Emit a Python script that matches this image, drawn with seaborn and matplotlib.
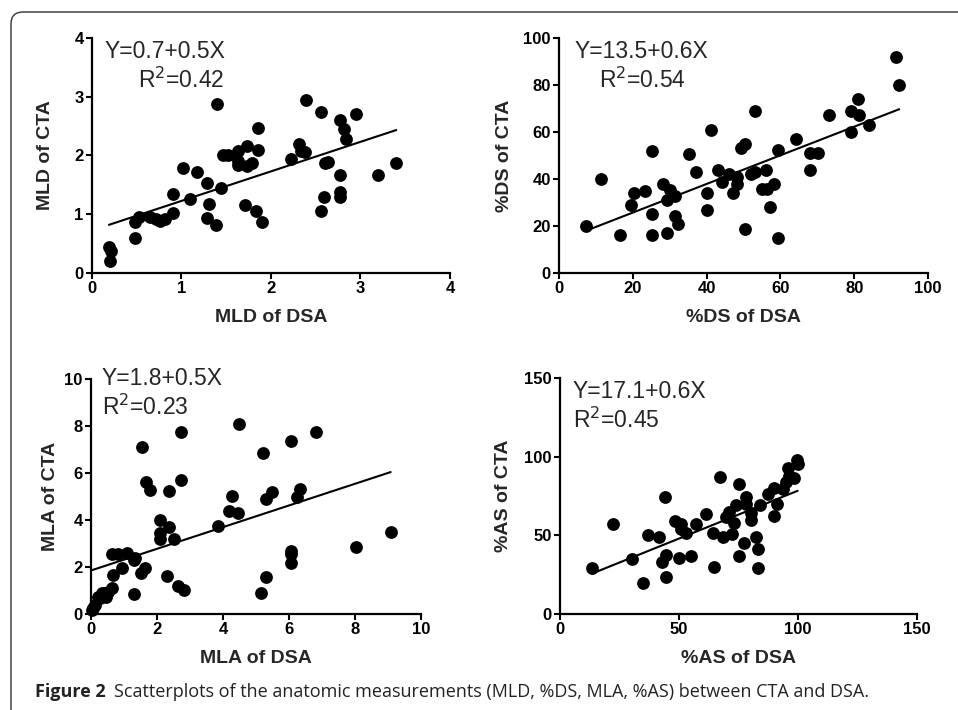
import matplotlib
matplotlib.use('Agg')
import matplotlib.pyplot as plt
from matplotlib.patches import FancyBboxPatch
from matplotlib.transforms import IdentityTransform
import seaborn as sns
import pandas as pd

# MLD (mm)
mld_dsa = [0.19, 0.21, 0.20, 0.48, 0.52, 0.48, 0.65, 0.71, 0.76, 0.82, 0.91, 0.90,
           1.02, 1.10, 1.17, 1.28, 1.31, 1.28, 1.39, 1.40, 1.44, 1.46, 1.52, 1.63,
           1.63, 1.63, 1.73, 1.73, 1.79, 1.71, 1.83, 1.90, 1.86, 1.86, 2.22, 2.31,
           2.34, 2.38, 2.39, 2.56, 2.56, 2.59, 2.60, 2.64, 2.77, 2.82, 2.84, 2.77,
           2.77, 2.77, 2.95, 3.20, 3.40]
mld_cta = [0.45, 0.37, 0.20, 0.86, 0.95, 0.60, 0.96, 0.92, 0.89, 0.92, 1.02, 1.35,
           1.79, 1.26, 1.72, 1.53, 1.18, 0.94, 0.82, 2.88, 1.45, 2.00, 2.01, 2.07,
           1.90, 1.83, 2.17, 1.82, 1.87, 1.16, 1.05, 0.86, 2.10, 2.46, 1.94, 2.20,
           2.07, 2.06, 2.94, 2.74, 1.05, 1.30, 1.87, 1.89, 2.60, 2.45, 2.28, 1.66,
           1.38, 1.30, 2.70, 1.66, 1.87]

# %DS
ds_dsa = [7.4, 11.4, 16.4, 19.4, 20.3, 23.3, 25.3, 25.3, 25.3, 28.2, 29.3, 29.3,
          30.2, 31.4, 31.4, 32.3, 35.2, 37.2, 40.2, 40.2, 41.3, 43.1, 44.2, 46.2,
          47.2, 48.3, 48.3, 49.4, 50.4, 50.3, 51.9, 53.2, 53.1, 55.1, 56.4, 56.1,
          57.1, 58.2, 59.3, 59.3, 64.3, 68.1, 68.1, 70.2, 73.1, 79.2, 79.2, 81.0,
          81.2, 84.1, 91.2, 92.2]
ds_cta = [20.1, 40.1, 16.0, 29.1, 34.0, 35.0, 52.1, 25.1, 16.0, 38.0, 30.9, 17.0,
          35.2, 32.9, 24.1, 21.0, 50.8, 43.0, 34.0, 27.0, 61.0, 44.0, 38.7, 42.3,
          34.0, 40.7, 38.0, 53.2, 54.9, 18.9, 42.3, 43.0, 69.1, 35.9, 35.9, 44.0,
          27.9, 38.0, 52.2, 14.9, 57.2, 44.0, 51.1, 51.1, 67.1, 69.1, 60.0, 74.0,
          67.1, 62.8, 91.9, 80.1]

# MLA (mm2)
mla_dsa = [0.02, 0.05, 0.12, 0.22, 0.27, 0.32, 0.42, 0.44, 0.52, 0.63, 0.68, 0.63,
           0.81, 1.08, 0.93, 1.29, 1.34, 1.31, 1.54, 1.52, 1.64, 1.66, 1.80, 2.10,
           2.10, 2.10, 2.35, 2.35, 2.30, 2.50, 2.63, 2.81, 2.72, 2.72, 3.86, 4.19,
           4.27, 4.44, 4.49, 5.20, 5.30, 5.48, 5.16, 5.31, 6.06, 6.06, 6.06, 6.06,
           6.24, 6.34, 6.82, 8.03, 9.08]
mla_cta = [0.17, 0.25, 0.38, 0.74, 0.67, 0.88, 0.88, 0.71, 0.95, 1.09, 1.66, 2.56,
           2.56, 2.61, 1.95, 2.30, 2.37, 0.84, 7.09, 1.73, 1.95, 5.60, 5.26, 4.01,
           3.44, 3.20, 5.24, 3.69, 1.63, 3.18, 1.21, 1.02, 7.74, 5.71, 3.76, 4.40,
           5.03, 4.29, 8.08, 6.85, 4.90, 5.18, 0.88, 1.56, 7.37, 2.68, 2.54, 2.19,
           5.00, 5.33, 7.74, 2.84, 3.47]

# %AS
as_dsa = [13.3, 22.3, 30.1, 35.0, 37.0, 41.4, 44.2, 44.4, 43.0, 44.4, 48.4, 50.7,
          50.7, 50.0, 52.9, 55.2, 57.1, 61.3, 64.1, 64.5, 67.2, 68.3, 69.7, 71.1,
          72.2, 73.2, 73.9, 75.3, 75.3, 77.1, 78.1, 78.1, 80.2, 80.2, 82.3, 83.3,
          83.3, 84.1, 87.2, 90.0, 91.1, 90.0, 93.5, 94.9, 95.9, 96.3, 98.4, 99.4,
          99.8]
as_cta = [29.1, 57.1, 35.0, 19.9, 49.9, 48.8, 74.1, 37.6, 33.3, 23.8, 59.2, 57.1,
          53.9, 35.9, 51.8, 36.9, 57.1, 63.7, 51.3, 30.1, 87.0, 48.8, 61.5, 65.1,
          50.9, 58.1, 69.0, 82.8, 36.9, 45.0, 74.1, 70.0, 64.5, 59.8, 49.2, 41.2,
          29.1, 69.0, 76.2, 80.4, 70.0, 62.0, 79.4, 84.2, 92.7, 87.8, 86.4, 98.0,
          95.5]

equations = ["Y=0.7+0.5X", "Y=13.5+0.6X", "Y=1.8+0.5X", "Y=17.1+0.6X"]
r_squared = ["0.42", "0.54", "0.23", "0.45"]

sns.set_style("ticks")
plt.rcParams['font.family'] = ['Liberation Sans', 'DejaVu Sans']

fig = plt.figure(figsize=(9.58, 7.1), dpi=100)

panels = [
    dict(x=mld_dsa, y=mld_cta, name="MLD", lim=4, step=1,
         rect=[0.0960, 0.6155, 0.3737, 0.3310],
         eq=(0.036, 0.942), r2=(0.128, 0.821), ylab=-0.131),
    dict(x=ds_dsa, y=ds_cta, name="%DS", lim=100, step=20,
         rect=[0.5835, 0.6155, 0.3852, 0.3310],
         eq=(0.041, 0.942), r2=(0.108, 0.821), ylab=-0.149),
    dict(x=mla_dsa, y=mla_cta, name="MLA", lim=10, step=2,
         rect=[0.0950, 0.1352, 0.3445, 0.3310],
         eq=(0.033, 1.0), r2=(0.033, 0.881), ylab=-0.124),
    dict(x=as_dsa, y=as_cta, name="%AS", lim=150, step=50,
         rect=[0.5846, 0.1352, 0.3727, 0.3324],
         eq=(0.036, 0.941), r2=(0.036, 0.822), ylab=-0.157),
]

for i, p in enumerate(panels):
    ax = fig.add_axes(p["rect"])
    df = pd.DataFrame({"dsa": p["x"], "cta": p["y"]})
    sns.regplot(data=df, x="dsa", y="cta", ax=ax, ci=None, truncate=True,
                scatter_kws=dict(s=85, color="black", linewidths=0, alpha=1,
                                 clip_on=False, zorder=3),
                line_kws=dict(color="black", lw=1.5, zorder=2))
    ax.set_xlim(0, p["lim"])
    ax.set_ylim(0, p["lim"])
    ticks = list(range(0, p["lim"] + 1, p["step"]))
    ax.set_xticks(ticks)
    ax.set_yticks(ticks)
    sns.despine(ax=ax)
    for s in ["left", "bottom"]:
        ax.spines[s].set_linewidth(1.6)
        ax.spines[s].set_color("black")
    ax.tick_params(direction="out", length=4, width=1.5, pad=2,
                   labelsize=12, colors="black")
    for lab in ax.get_xticklabels() + ax.get_yticklabels():
        lab.set_fontweight("bold")
    ax.set_xlabel(f"{p['name']} of DSA", fontsize=14, fontweight="bold")
    ax.set_ylabel(f"{p['name']} of CTA", fontsize=14, fontweight="bold")
    ax.xaxis.set_label_coords(0.5, -0.19)
    ax.xaxis.label.set_va("center")
    ax.yaxis.set_label_coords(p["ylab"], 0.5)
    ax.yaxis.label.set_va("center")
    ax.text(p["eq"][0], p["eq"][1], equations[i], transform=ax.transAxes,
            fontsize=16.5, ha="left", va="center")
    ax.text(p["r2"][0], p["r2"][1], "R$^2$=" + r_squared[i],
            transform=ax.transAxes, fontsize=16.5, ha="left", va="center")

# rounded frame around the figure (top and left edges visible)
frame = FancyBboxPatch((11, -60), 1100, 710 - 12 + 60,
                       boxstyle="round,pad=0,rounding_size=12",
                       transform=IdentityTransform(), fill=False,
                       edgecolor="#333333", lw=1.0)
fig.patches.append(frame)

fig.text(35 / 958, 1 - 692 / 710, "Figure 2", fontsize=13, fontweight="bold",
         family=["Open Sans", "DejaVu Sans"], ha="left", va="center", color="#222222")
fig.text(114 / 958, 1 - 692 / 710,
         "Scatterplots of the anatomic measurements (MLD, %DS, MLA, %AS) between CTA and DSA.",
         fontsize=13, family=["Open Sans", "DejaVu Sans"], ha="left", va="center",
         color="#222222")

fig.savefig("out.png", dpi=100)
